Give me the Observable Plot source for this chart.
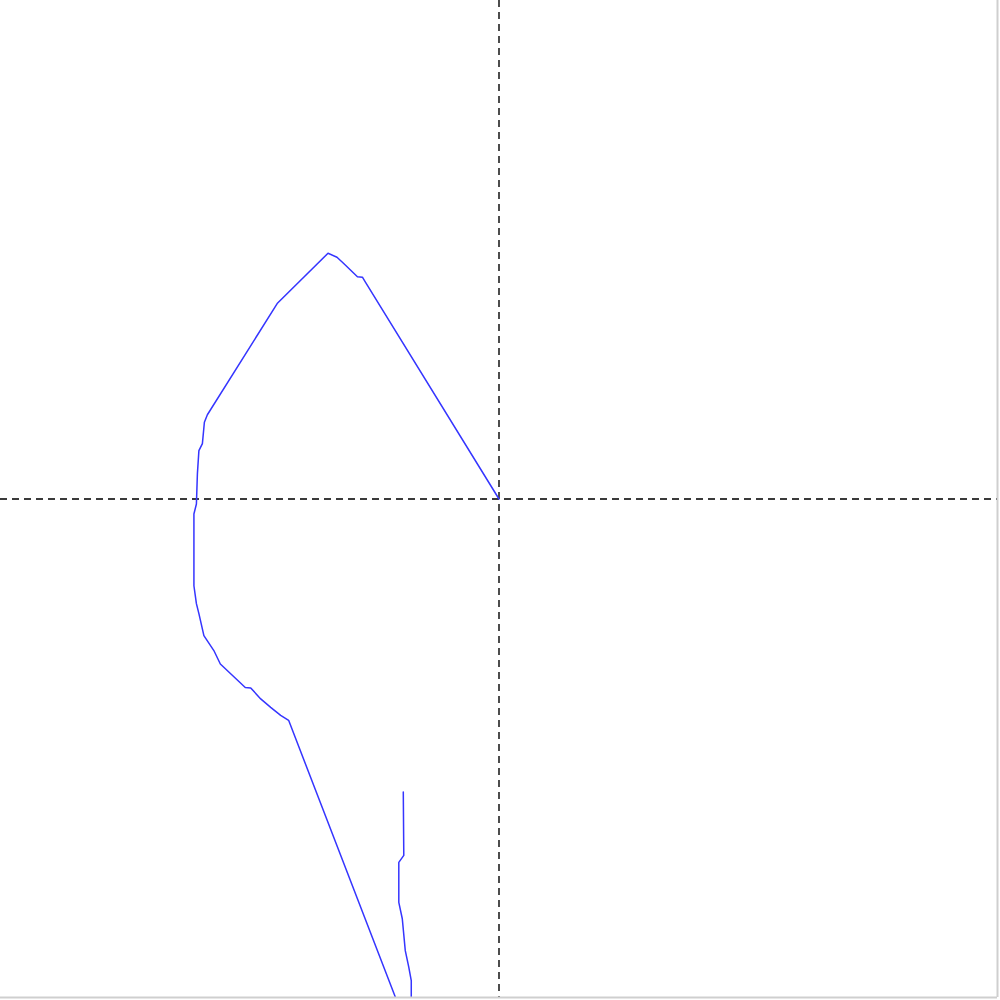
<!DOCTYPE html>
<html>
<head>
<meta charset="utf-8">
<script src="https://cdn.jsdelivr.net/npm/d3@7"></script>
<script src="https://cdn.jsdelivr.net/npm/@observablehq/plot@0.6"></script>
<style>
  html, body { margin: 0; padding: 0; background: #fff; }
  #chart svg { display: block; }
</style>
</head>
<body>
<div id="chart"></div>
<script>
// Path coordinates (data units, origin at centre; domain [-1, 1])
const pathX = [0, -0.268, -0.274, -0.284, -0.311, -0.325, -0.343, -0.445, -0.585, -0.591,
  -0.595, -0.602, -0.605, -0.607, -0.612, -0.612, -0.607, -0.602, -0.592, -0.572,
  -0.559, -0.509, -0.498, -0.478, -0.458, -0.438, -0.422, -0.208, -0.197, -0.176,
  -0.176, -0.181, -0.188, -0.194, -0.201, -0.201, -0.191, -0.192];
const pathY = [0, 0.435, 0.445, 0.446, 0.472, 0.485, 0.493, 0.392, 0.169, 0.154,
  0.111, 0.097, 0.051, -0.010, -0.030, -0.174, -0.210, -0.230, -0.274, -0.304,
  -0.331, -0.378, -0.379, -0.401, -0.418, -0.434, -0.444, -0.999, -1.026, -1.026,
  -0.966, -0.939, -0.906, -0.842, -0.809, -0.729, -0.715, -0.588];
const axisDomain = [-1, 1];

const points = pathX.map((x, i) => ({x, y: pathY[i]}));

const chart = Plot.plot({
  width: 1000,
  height: 1000,
  marginTop: 0,
  marginLeft: 0,
  marginRight: 3,
  marginBottom: 3,
  x: {domain: axisDomain, axis: null},
  y: {domain: axisDomain, axis: null},
  style: {background: "#fff"},
  marks: [
    Plot.ruleX([0], {stroke: "#3a3a3a", strokeWidth: 1.8, strokeDasharray: "7,5"}),
    Plot.ruleY([0], {stroke: "#3a3a3a", strokeWidth: 1.8, strokeDasharray: "7,5"}),
    Plot.line(points, {x: "x", y: "y", stroke: "#3535ff", strokeWidth: 1.5, clip: true}),
    Plot.ruleX([1], {stroke: "#cfcfcf", strokeWidth: 2}),
    Plot.ruleY([-1], {stroke: "#cfcfcf", strokeWidth: 2})
  ]
});
document.getElementById("chart").appendChild(chart);
</script>
</body>
</html>
